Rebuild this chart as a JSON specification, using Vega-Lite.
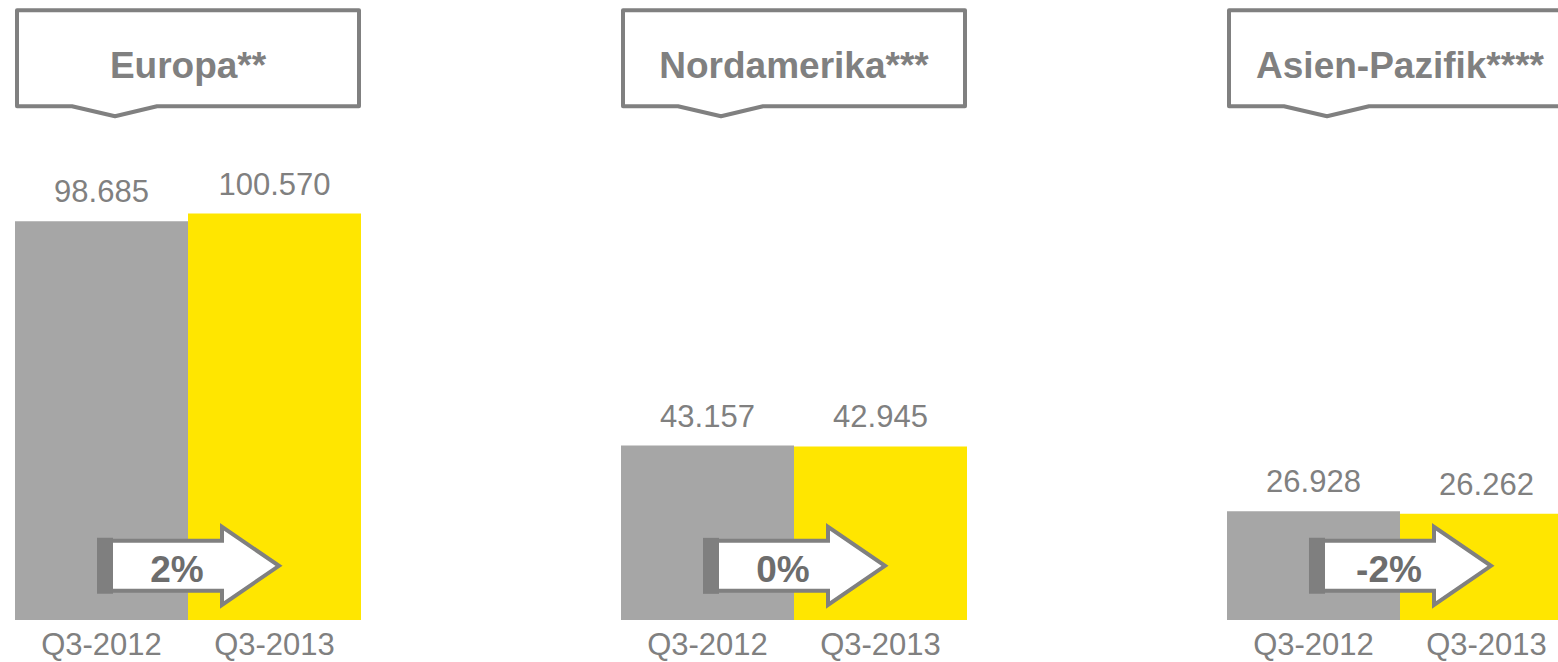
{
  "$schema": "https://vega.github.io/schema/vega-lite/v6.json",
  "width": 1543,
  "height": 620,
  "autosize": {"type": "none"},
  "padding": {"left": 15, "top": 0, "right": 0, "bottom": 42},
  "background": "white",
  "config": {
    "view": {"stroke": null},
    "font": "Liberation Sans",
    "locale": {"number": {"decimal": ",", "thousands": ".", "grouping": [3], "currency": ["", " €"]}}
  },
  "datasets": {
    "bars": [
      {"region": "Europa**", "year": "Q3-2012", "value": 98685},
      {"region": "Europa**", "year": "Q3-2013", "value": 100570},
      {"region": "Nordamerika***", "year": "Q3-2012", "value": 43157},
      {"region": "Nordamerika***", "year": "Q3-2013", "value": 42945},
      {"region": "Asien-Pazifik****", "year": "Q3-2012", "value": 26928},
      {"region": "Asien-Pazifik****", "year": "Q3-2013", "value": 26262}
    ],
    "regions": [
      {"region": "Europa**", "change": "2%"},
      {"region": "Nordamerika***", "change": "0%"},
      {"region": "Asien-Pazifik****", "change": "-2%"}
    ]
  },
  "layer": [
    {
      "data": {"name": "bars"},
      "mark": {"type": "bar"},
      "encoding": {
        "x": {"field": "region", "type": "nominal", "axis": null, "scale": {"domain": ["Europa**", "Nordamerika***", "Asien-Pazifik****"], "range": [0, 1558], "paddingInner": 0.42904, "paddingOuter": 0}},
        "xOffset": {"field": "year", "type": "nominal", "scale": {"domain": ["Q3-2012", "Q3-2013"], "paddingInner": 0, "paddingOuter": 0}},
        "y": {"field": "value", "type": "quantitative", "axis": null, "scale": {"domain": [0, 153400], "nice": false, "zero": true}},
        "color": {"field": "year", "type": "nominal", "legend": null, "scale": {"domain": ["Q3-2012", "Q3-2013"], "range": ["#A6A6A6", "#FFE600"]}}
      }
    },
    {
      "data": {"name": "bars"},
      "mark": {"type": "text", "baseline": "alphabetic", "dy": -19, "fontSize": 31, "fill": "#808080"},
      "encoding": {
        "x": {"field": "region", "type": "nominal"},
        "xOffset": {"field": "year", "type": "nominal"},
        "y": {"field": "value", "type": "quantitative"},
        "text": {"field": "value", "type": "quantitative", "format": ",d"}
      }
    },
    {
      "data": {"name": "bars"},
      "mark": {"type": "text", "baseline": "alphabetic", "dy": 35, "fontSize": 31, "fill": "#808080"},
      "encoding": {
        "x": {"field": "region", "type": "nominal"},
        "xOffset": {"field": "year", "type": "nominal"},
        "y": {"datum": 0, "type": "quantitative"},
        "text": {"field": "year", "type": "nominal"}
      }
    },
    {
      "data": {"name": "regions"},
      "mark": {"type": "point", "shape": "M-0.88,-0.25L0.34,-0.25L0.34,-0.39L0.91,0L0.34,0.39L0.34,0.25L-0.88,0.25Z", "size": 40000, "filled": true, "fill": "#FFFFFF", "stroke": "#808080", "strokeWidth": 4, "strokeJoin": "miter", "opacity": 1, "fillOpacity": 1, "strokeOpacity": 1},
      "encoding": {
        "x": {"field": "region", "type": "nominal"},
        "y": {"datum": 13400, "type": "quantitative"}
      }
    },
    {
      "data": {"name": "regions"},
      "mark": {"type": "point", "shape": "M-0.91,-0.28L-0.75,-0.28L-0.75,0.28L-0.91,0.28Z", "size": 40000, "filled": true, "fill": "#7F7F7F", "strokeWidth": 0, "opacity": 1, "fillOpacity": 1},
      "encoding": {
        "x": {"field": "region", "type": "nominal"},
        "y": {"datum": 13400, "type": "quantitative"}
      }
    },
    {
      "data": {"name": "regions"},
      "mark": {"type": "text", "baseline": "alphabetic", "dy": 16, "dx": -11, "fontSize": 37, "fontWeight": "bold", "fill": "#6D6D6D"},
      "encoding": {
        "x": {"field": "region", "type": "nominal"},
        "y": {"datum": 13400, "type": "quantitative"},
        "text": {"field": "change", "type": "nominal"}
      }
    },
    {
      "data": {"name": "regions"},
      "mark": {"type": "point", "shape": "M-1.71,-0.48L1.71,-0.48L1.71,0.48L-0.31,0.48L-0.73,0.58L-1.16,0.48L-1.71,0.48Z", "size": 40000, "filled": true, "fill": "#FFFFFF", "stroke": "#808080", "strokeWidth": 4, "strokeJoin": "round", "opacity": 1, "fillOpacity": 1, "strokeOpacity": 1},
      "encoding": {
        "x": {"field": "region", "type": "nominal"},
        "y": {"datum": 139000, "type": "quantitative"}
      }
    },
    {
      "data": {"name": "regions"},
      "mark": {"type": "text", "baseline": "alphabetic", "dy": 20, "fontSize": 37, "fontWeight": "bold", "fill": "#808080"},
      "encoding": {
        "x": {"field": "region", "type": "nominal"},
        "y": {"datum": 139000, "type": "quantitative"},
        "text": {"field": "region", "type": "nominal"}
      }
    }
  ]
}
